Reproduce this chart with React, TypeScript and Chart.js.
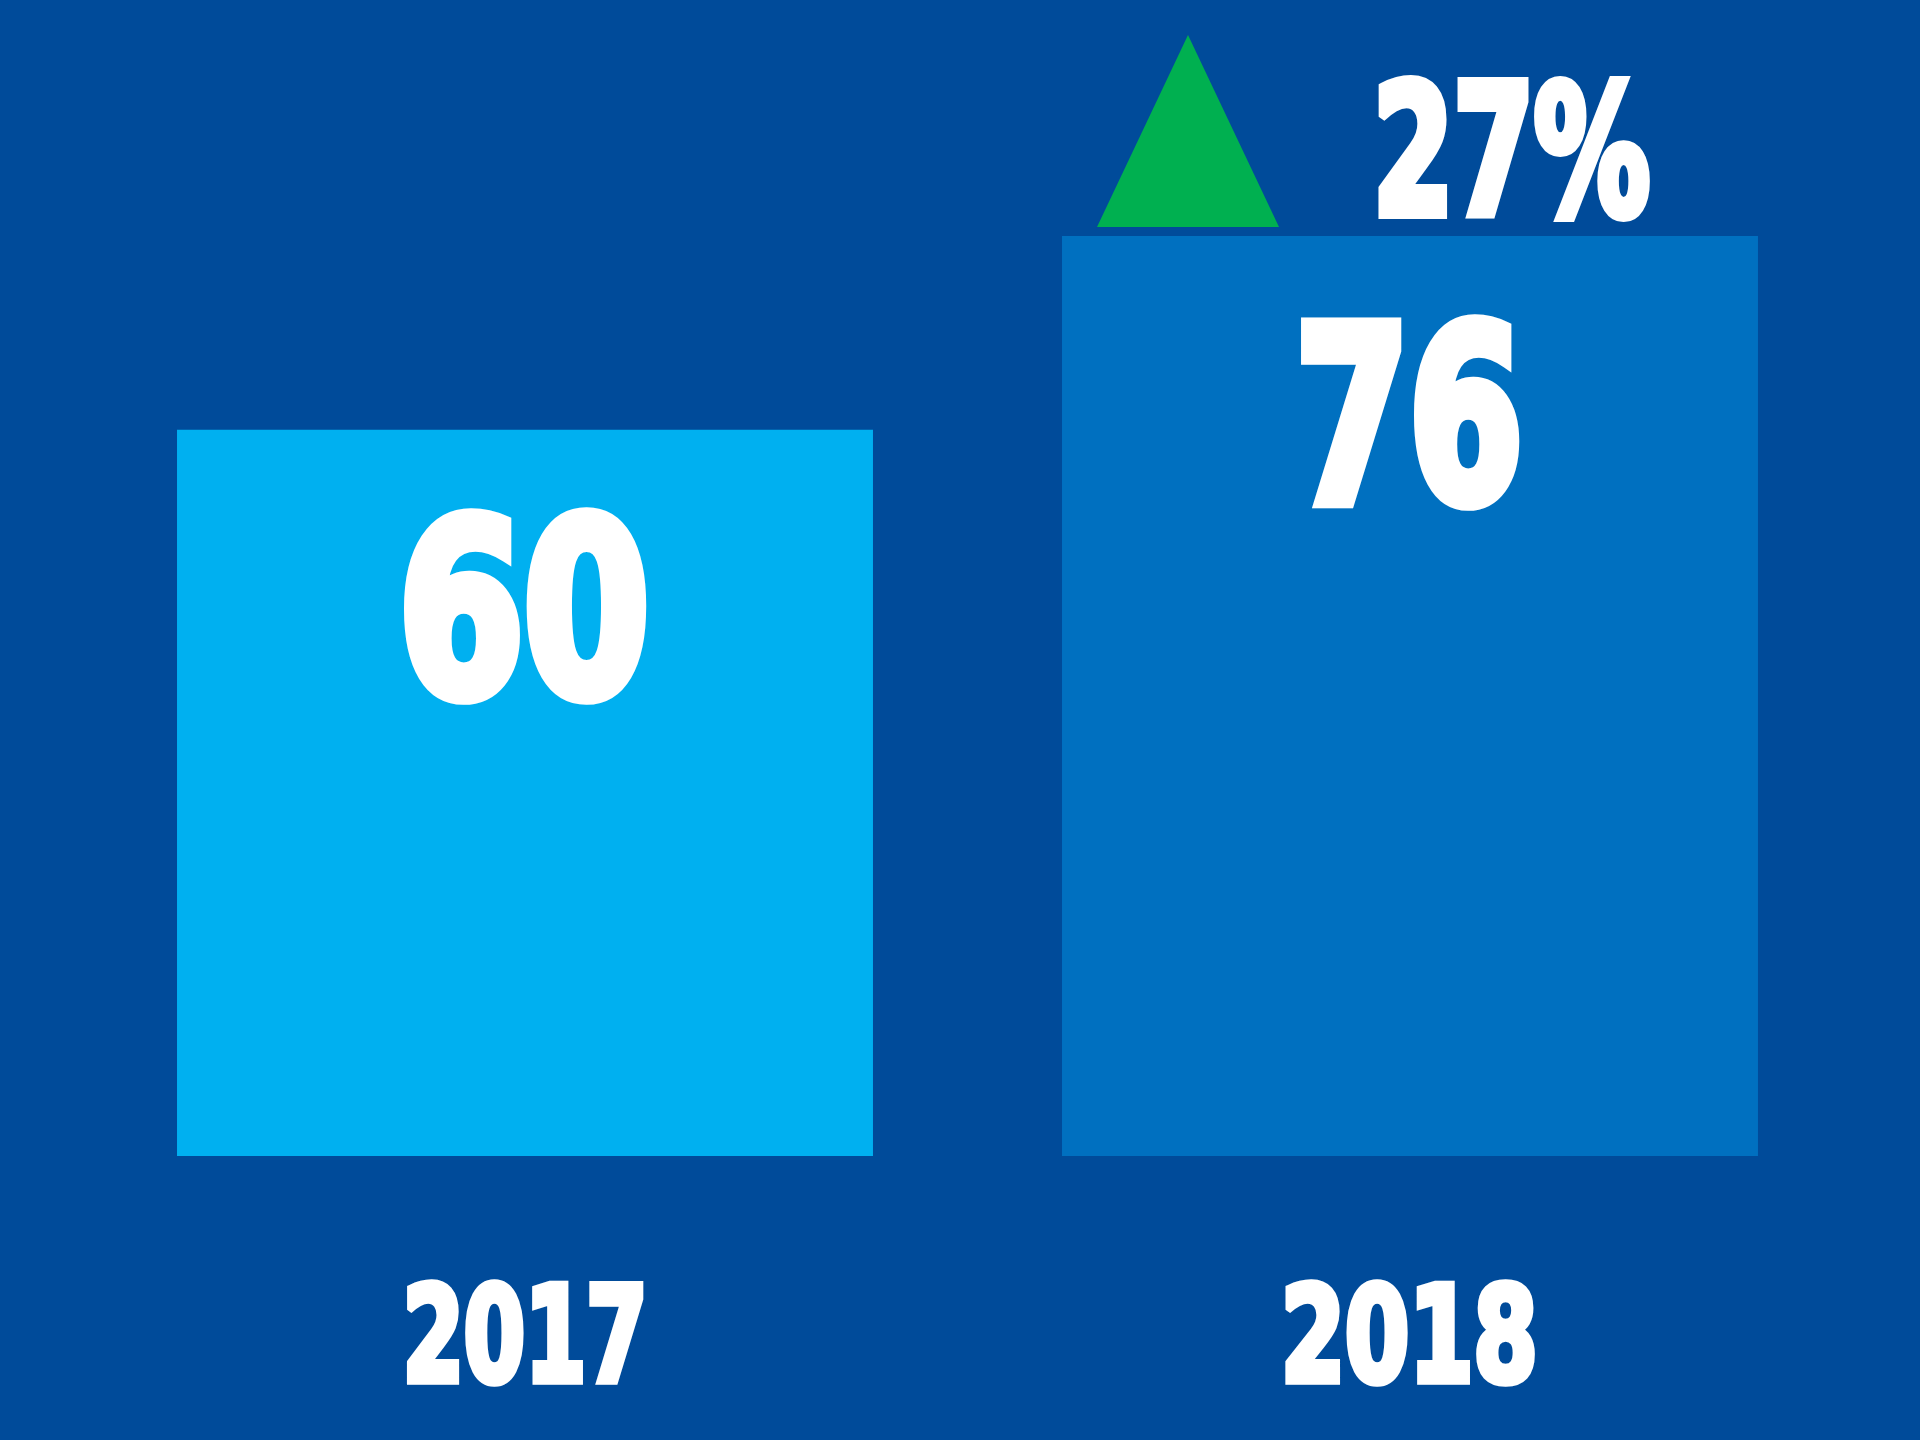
import React, { useEffect, useRef } from 'react';
import { Chart, registerables } from 'chart.js';

Chart.register(...registerables);

// ---- data ----
const categories: string[] = ['2017', '2018'];
const values: number[] = [60, 76];
const changeLabel = `${Math.round(((values[1] - values[0]) / values[0]) * 100)}%`;

// ---- styles ----
const barColors = ['#00B0F0', '#0070C0'];
const BG = '#004B9A';
const UP_COLOR = '#00B050';
const FONT = '"Liberation Sans Narrow", "DejaVu Sans Condensed", "Liberation Sans", sans-serif';
const valueLabelWidths = [243, 219];
const categoryLabelWidths = [237, 250];

function drawFitted(
  ctx: CanvasRenderingContext2D,
  text: string,
  cx: number,
  baseline: number,
  capH: number,
  width: number
) {
  ctx.save();
  const lw = capH * 0.07;
  ctx.font = `bold 100px ${FONT}`;
  const m = ctx.measureText(text);
  const asc = m.actualBoundingBoxAscent || 72;
  const size = (100 * (capH - lw)) / asc;
  ctx.font = `bold ${size}px ${FONT}`;
  ctx.textBaseline = 'alphabetic';
  ctx.textAlign = 'left';
  const m2 = ctx.measureText(text);
  const w = m2.actualBoundingBoxLeft + m2.actualBoundingBoxRight;
  const sx = width / (w + lw);
  ctx.translate(cx, baseline - lw / 2);
  ctx.scale(sx, 1);
  ctx.fillStyle = '#FFFFFF';
  ctx.strokeStyle = '#FFFFFF';
  ctx.lineWidth = lw;
  ctx.lineJoin = 'miter';
  ctx.miterLimit = 2;
  const x0 = -w / 2 + m2.actualBoundingBoxLeft;
  ctx.strokeText(text, x0, 0);
  ctx.fillText(text, x0, 0);
  ctx.restore();
}

const decorPlugin = {
  id: 'decor',
  beforeDraw(chart: any) {
    const ctx = chart.ctx as CanvasRenderingContext2D;
    ctx.save();
    ctx.fillStyle = BG;
    ctx.fillRect(0, 0, chart.width, chart.height);
    ctx.restore();
  },
  afterDatasetsDraw(chart: any) {
    const ctx = chart.ctx as CanvasRenderingContext2D;
    const meta = chart.getDatasetMeta(0);
    const bottom = chart.chartArea.bottom;
    meta.data.forEach((el: any, i: number) => {
      const v = values[i];
      drawFitted(ctx, String(v), el.x, el.y + 272, 196, valueLabelWidths[i]);
      drawFitted(ctx, categories[i], el.x, bottom + 229, 107, categoryLabelWidths[i]);
    });
    const last = meta.data[meta.data.length - 1];
    if (last) {
      const top = last.y;
      const tx = last.x - 222;
      // up triangle
      ctx.save();
      ctx.fillStyle = UP_COLOR;
      ctx.beginPath();
      ctx.moveTo(tx, top - 201);
      ctx.lineTo(tx + 91, top - 9);
      ctx.lineTo(tx - 91, top - 9);
      ctx.closePath();
      ctx.fill();
      ctx.restore();
      drawFitted(ctx, changeLabel, last.x + 104, top - 17, 145, 272);
    }
  },
};

export default function App() {
  const ref = useRef<HTMLCanvasElement | null>(null);
  useEffect(() => {
    if (!ref.current) return;
    const chart = new Chart(ref.current, {
      type: 'bar',
      data: {
        labels: categories,
        datasets: [
          {
            data: values,
            backgroundColor: barColors,
            borderWidth: 0,
            barPercentage: 0.7864,
            categoryPercentage: 1,
          },
        ],
      },
      options: {
        responsive: false,
        animation: false,
        devicePixelRatio: 1,
        layout: { padding: { left: 82.5, right: 67.5, top: 6, bottom: 284 } },
        plugins: { legend: { display: false }, tooltip: { enabled: false } },
        scales: {
          x: { display: false },
          y: { display: false, min: 0, max: 95 },
        },
      },
      plugins: [decorPlugin],
    });
    return () => chart.destroy();
  }, []);
  return (
    <div style={{ position: 'absolute', left: 0, top: 0, width: 1920, height: 1440, background: BG }}>
      <canvas ref={ref} width={1920} height={1440} style={{ display: 'block' }} />
    </div>
  );
}
